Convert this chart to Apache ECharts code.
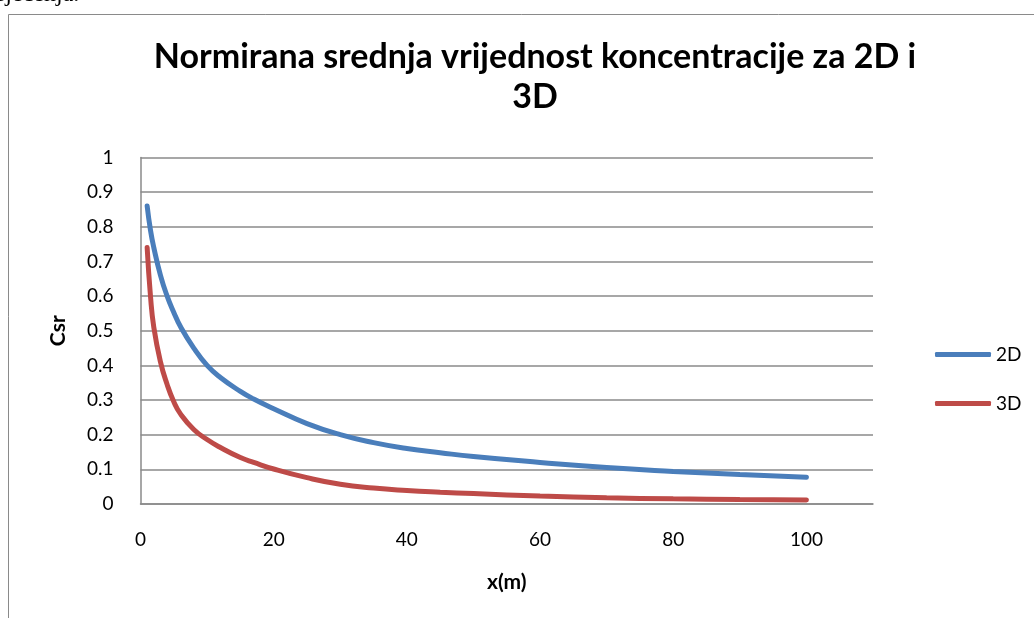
<!DOCTYPE html>
<html>
<head>
<meta charset="utf-8">
<script src="https://cdn.jsdelivr.net/npm/echarts@6/dist/echarts.min.js"></script>
<style>
  html, body { margin: 0; padding: 0; background: #fff; }
  #chart { width: 1034px; height: 618px; }
</style>
</head>
<body>
<div id="chart"></div>
<script>
// udaljenost x (m)
const xValues = [1, 1.5, 2, 3, 4, 5, 6, 8, 10, 12, 15, 17, 20, 25, 30, 35, 40, 45, 50, 60, 70, 80, 90, 100]
// normirana srednja koncentracija, 2D
const c2D = [0.86, 0.79, 0.74, 0.66, 0.60, 0.553, 0.512, 0.45, 0.40, 0.365, 0.325, 0.303, 0.275, 0.232, 0.200, 0.177, 0.160, 0.148, 0.137, 0.120, 0.105, 0.094, 0.085, 0.077]
// normirana srednja koncentracija, 3D
const c3D = [0.74, 0.60, 0.51, 0.41, 0.345, 0.295, 0.26, 0.215, 0.186, 0.163, 0.134, 0.12, 0.101, 0.076, 0.057, 0.046, 0.039, 0.034, 0.030, 0.023, 0.018, 0.015, 0.013, 0.0115]
const xTicks = [0, 20, 40, 60, 80, 100]

const toPairs = (ys) => xValues.map((x, i) => [x, ys[i]])

const chart = echarts.init(document.getElementById('chart'))

const axisFont = { fontFamily: 'Lato', fontSize: 19, color: '#000' }
const nameFont = { fontFamily: 'Lato', fontSize: 21, fontWeight: 'bold', color: '#000' }
const gridLine = { color: '#8a8a8a', width: 1.5 }

const option = {
  backgroundColor: '#fff',
  animation: false,
  title: {
    text: 'Normirana srednja vrijednost koncentracije za 2D i\n3D',
    left: 530,
    top: 32,
    textAlign: 'center',
    textStyle: {
      fontFamily: 'Lato',
      fontWeight: 'bold',
      fontSize: 34,
      lineHeight: 40,
      color: '#000'
    }
  },
  legend: {
    orient: 'vertical',
    left: 930,
    top: 340,
    icon: 'roundRect',
    itemWidth: 56,
    itemHeight: 5,
    itemGap: 30,
    textStyle: axisFont,
    data: ['2D', '3D']
  },
  grid: {
    left: 140.5,
    top: 157.5,
    right: 161,
    bottom: 114
  },
  xAxis: {
    type: 'value',
    min: 0,
    max: 110,
    interval: 20,
    name: 'x(m)',
    nameLocation: 'middle',
    nameGap: 68,
    nameTextStyle: nameFont,
    axisLine: { lineStyle: gridLine },
    axisTick: { show: false },
    splitLine: { show: false },
    axisLabel: {
      ...axisFont,
      margin: 26,
      formatter: (v) => (xTicks.includes(v) ? String(v) : '')
    }
  },
  yAxis: {
    type: 'value',
    min: 0,
    max: 1,
    interval: 0.1,
    name: 'Csr',
    nameLocation: 'middle',
    nameGap: 72,
    nameRotate: 90,
    nameTextStyle: nameFont,
    axisLine: { show: true, lineStyle: gridLine },
    axisTick: { show: false },
    splitLine: { lineStyle: gridLine },
    axisLabel: {
      ...axisFont,
      margin: 27,
      formatter: (v) => String(Math.round(v * 10) / 10)
    }
  },
  series: [
    {
      name: '2D',
      type: 'line',
      data: toPairs(c2D),
      smooth: 0.5,
      symbol: 'none',
      lineStyle: { color: '#4A7EBB', width: 5, cap: 'round' },
      itemStyle: { color: '#4A7EBB' }
    },
    {
      name: '3D',
      type: 'line',
      data: toPairs(c3D),
      smooth: 0.5,
      symbol: 'none',
      lineStyle: { color: '#BE4B48', width: 5, cap: 'round' },
      itemStyle: { color: '#BE4B48' }
    }
  ],
  graphic: [
    {
      type: 'rect',
      shape: { x: 8.5, y: 14.5, width: 1100, height: 700 },
      style: { fill: 'none', stroke: '#8a8a8a', lineWidth: 1 }
    },
    {
      type: 'text',
      left: -4,
      top: -17,
      style: { text: 'sječenja.', font: '24px "Liberation Serif"', fill: '#000' }
    }
  ]
}

chart.setOption(option)
</script>
</body>
</html>
